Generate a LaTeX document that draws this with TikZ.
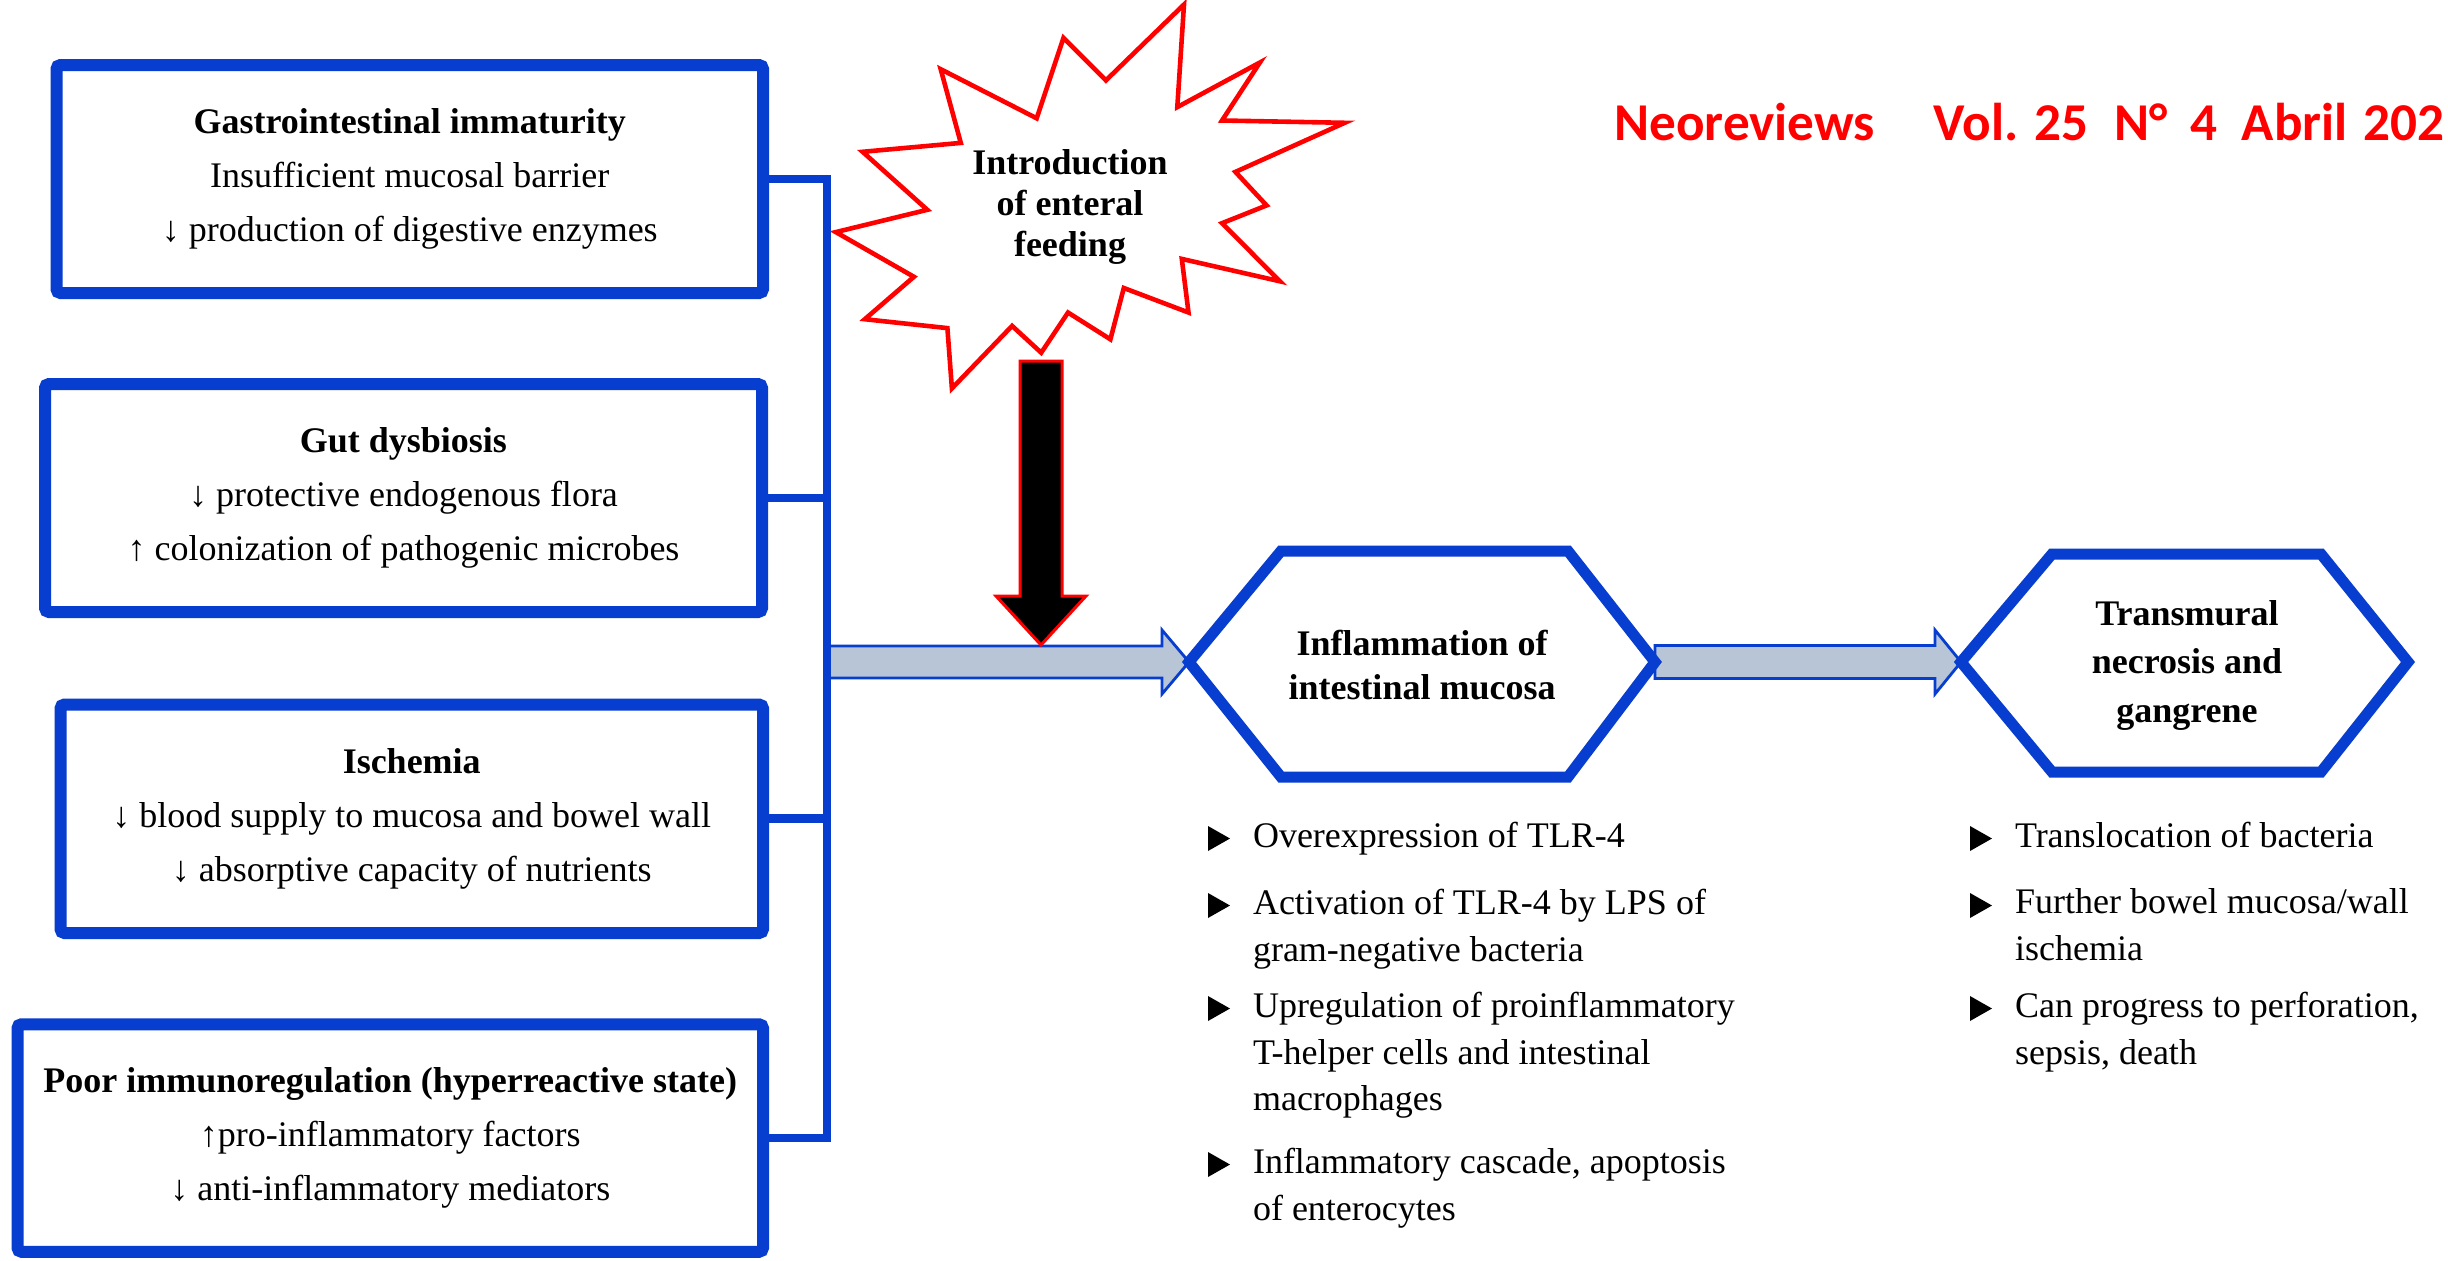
\documentclass[tikz,border=0pt]{standalone}
\usepackage{fontspec}
\setmainfont{Liberation Serif}
\newfontfamily\hdrfont{Carlito}
\usetikzlibrary{calc}
\definecolor{bblue}{RGB}{8,62,208}
\definecolor{afill}{RGB}{184,197,214}
\definecolor{sred}{RGB}{255,0,0}
\newcommand\bultri[1]{\fill ($(#1.north west)+(-45,4)$) -- ($(#1.north west)+(-23,16.5)$) -- ($(#1.north west)+(-45,29)$) -- cycle;}
\begin{document}
\begin{tikzpicture}[x=0.5pt,y=-0.5pt,
  box/.style={draw=bblue, line width=6pt, rounded corners=2pt, align=center,
    font=\fontsize{18}{27}\selectfont, inner sep=0pt, fill=white},
  conn/.style={draw=bblue, line width=4.3pt},
  hexline/.style={draw=bblue, line width=5.5pt, line join=miter},
  fatarr/.style={fill=afill, draw=bblue, line width=1.4pt},
  hextxt/.style={align=center, inner sep=0pt},
  item/.style={anchor=north west, inner sep=0pt, outer sep=0pt, align=left,
    font=\fontsize{18}{23.35}\selectfont},
  starline/.style={draw=sred, line width=2.3pt, fill=white, line join=miter}]
\fill[white] (0,0) rectangle (2448,1260);
\useasboundingbox (0,0) rectangle (2448,1260);

% header
\node[anchor=base west, inner sep=0pt, text=sred,
  font=\hdrfont\bfseries\fontsize{26.6}{30}\selectfont] (hdr) at (1614,140)
  {Neoreviews\hspace{29.5pt}Vol. 25\hspace{13pt}N°\hspace{11.5pt}4\hspace{12pt}Abril\hspace{8pt}202};

% left boxes
\node[box, minimum width=353.25pt, minimum height=114pt] (b1) at (409.75,179)
  {\textbf{Gastrointestinal immaturity}\\Insufficient mucosal barrier\\↓ production of digestive enzymes};
\node[box, minimum width=358.5pt, minimum height=114pt] (b2) at (403.5,498)
  {\textbf{Gut dysbiosis}\\↓ protective endogenous flora\\↑ colonization of pathogenic microbes};
\node[box, minimum width=351.25pt, minimum height=114.25pt] (b3) at (411.75,818.75)
  {\textbf{Ischemia}\\↓ blood supply to mucosa and bowel wall\\↓ absorptive capacity of nutrients};
\node[box, minimum width=372.75pt, minimum height=113.75pt] (b4) at (390.25,1138)
  {\textbf{Poor immunoregulation (hyperreactive state)}\\↑pro-inflammatory factors\\↓ anti-inflammatory mediators};

% key coordinates
\coordinate (sp) at (827,662);
\coordinate (h1w) at (1189,662);
\coordinate (h1e) at (1655,662);
\coordinate (h2w) at (1961,662);
\coordinate (h2e) at (2408,662);
\coordinate (btip) at (1041,645);

% fat arrows
\draw[fatarr] ($(sp)+(0,-16)$) -- ($(h1w)+(-27,-16)$) -- ($(h1w)+(-27,-32)$) -- (h1w)
  -- ($(h1w)+(-27,32)$) -- ($(h1w)+(-27,16)$) -- ($(sp)+(0,16)$) -- cycle;
\draw[fatarr] ($(h1e)+(0,-16.5)$) -- ($(h2w)+(-26,-16.5)$) -- ($(h2w)+(-26,-32)$) -- (h2w)
  -- ($(h2w)+(-26,32)$) -- ($(h2w)+(-26,16.5)$) -- ($(h1e)+(0,16.5)$) -- cycle;

% connectors from boxes to spine
\draw[conn] (b1.east) -- (b1.east -| sp) -- (b4.east -| sp) -- (b4.east);
\draw[conn] (b2.east) -- (b2.east -| sp);
\draw[conn] (b3.east) -- (b3.east -| sp);

% starburst
\draw[starline] (1184,4.5) -- (1177.3,107.1) -- (1259.9,62.5) -- (1222,120.5) -- (1344.7,122.8)
  -- (1235.4,171.9) -- (1266.6,205.4) -- (1222,223.2) -- (1280,281.3) -- (1181.8,258.9)
  -- (1188.5,312.5) -- (1123.8,288) -- (1110.4,339.3) -- (1068,312.5) -- (1041.2,352.7)
  -- (1012.1,325.9) -- (951.9,388.4) -- (947.4,328.1) -- (864.8,319.2) -- (913.9,276.8)
  -- (835.8,232.1) -- (927.3,209.8) -- (862.6,151.8) -- (960.8,142.9) -- (940.7,69.2)
  -- (1036.7,118.3) -- (1063.5,37.9) -- (1105.9,80.4) -- cycle;
\node[hextxt, font=\bfseries\fontsize{18}{20.5}\selectfont] (sb) at (1070,207)
  {Introduction\\of enteral\\feeding};

% black arrow
\draw[fill=black, draw=sred, line width=1.5pt]
  ($(btip)+(-21,-284)$) -- ($(btip)+(21,-284)$) -- ($(btip)+(21,-49)$) -- ($(btip)+(45,-49)$)
  -- (btip) -- ($(btip)+(-45,-49)$) -- ($(btip)+(-21,-49)$) -- cycle;

% hexagons
\draw[hexline] (h1w) -- (1281,551) -- (1568,551) -- (h1e) -- (1568,777) -- (1281,777) -- cycle;
\node[hextxt, font=\bfseries\fontsize{18}{22}\selectfont] (h1) at (1422,665)
  {Inflammation of\\intestinal mucosa};
\draw[hexline] (h2w) -- (2052,554) -- (2321,554) -- (h2e) -- (2321,772) -- (2052,772) -- cycle;
\node[hextxt, font=\bfseries\fontsize{18}{24.25}\selectfont] (h2) at (2187,665)
  {Transmural\\necrosis and\\gangrene};

% bullet lists
\node[item] (l1) at (1253,822) {Overexpression of TLR-4};
\node[item] (l2) at (1253,889) {Activation of TLR-4 by LPS of\\gram-negative bacteria};
\node[item] (l3) at (1253,992) {Upregulation of proinflammatory\\T-helper cells and intestinal\\macrophages};
\node[item] (l4) at (1253,1148) {Inflammatory cascade, apoptosis\\of enterocytes};
\node[item] (r1) at (2015,822) {Translocation of bacteria};
\node[item] (r2) at (2015,889) {Further bowel mucosa/wall\\ischemia};
\node[item] (r3) at (2015,992) {Can progress to perforation,\\sepsis, death};
\bultri{l1}\bultri{l2}\bultri{l3}\bultri{l4}
\bultri{r1}\bultri{r2}\bultri{r3}
\end{tikzpicture}
\end{document}
